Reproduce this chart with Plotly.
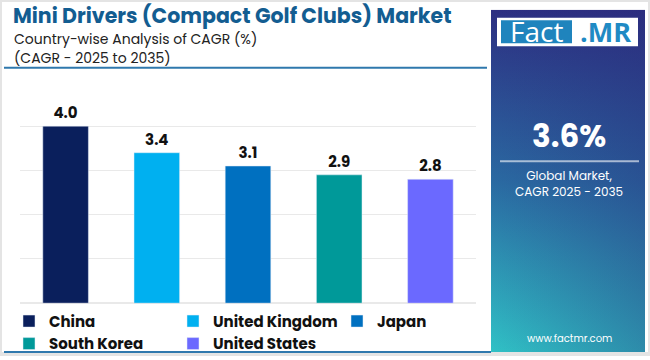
import plotly.graph_objects as go

# ---- data ----
countries = ["China", "United Kingdom", "Japan", "South Korea", "United States"]
cagr = [4.0, 3.4, 3.1, 2.9, 2.8]
bar_colors = ["#0a1f5c", "#00b0f0", "#0070c0", "#009999", "#6b69ff"]
title_text = "Mini Drivers (Compact Golf Clubs) Market"
subtitle_1 = "Country-wise Analysis of CAGR (%)"
subtitle_2 = "(CAGR - 2025 to 2035)"
global_value = "3.6%"
global_label = "Global Market,<br>CAGR 2025 - 2035"
site = "www.factmr.com"

W, H = 650, 360
FONT = "Poppins, Lato, sans-serif"


def px(x):
    return x / W


def py(y):
    return 1 - y / H


fig = go.Figure()

for c, v, col in zip(countries, cagr, bar_colors):
    fig.add_trace(go.Bar(
        x=[c], y=[v], name=c, marker_color=col, width=0.5,
        text=[f"{v:.1f}"], textposition="outside", cliponaxis=False,
        textfont=dict(size=15, color="#111111", family=FONT, weight="bold"),
        xaxis="x", yaxis="y",
    ))

# gradient side panel (vertical gradient + horizontal darkening overlay)
fig.add_trace(go.Scatter(
    x=[0, 1, 1, 0, 0], y=[0, 0, 1, 1, 0], mode="lines", fill="toself",
    line=dict(width=0), showlegend=False, hoverinfo="skip",
    fillgradient=dict(type="vertical",
                      colorscale=[[0, "#30c2c6"], [0.5, "#2a6aa2"], [1, "#2d2f82"]]),
    xaxis="x2", yaxis="y2",
))
fig.add_trace(go.Scatter(
    x=[0, 1, 1, 0, 0], y=[0, 0, 1, 1, 0], mode="lines", fill="toself",
    line=dict(width=0), showlegend=False, hoverinfo="skip",
    fillgradient=dict(type="horizontal",
                      colorscale=[[0, "rgba(40,40,120,0)"], [1, "rgba(40,40,120,0.35)"]]),
    xaxis="x2", yaxis="y2",
))

fig.update_layout(
    width=W, height=H,
    margin=dict(l=0, r=0, t=0, b=0),
    paper_bgcolor="white", plot_bgcolor="white",
    barmode="overlay",
    showlegend=True,
    xaxis=dict(domain=[px(20), px(476)], showticklabels=False, showgrid=False,
               zeroline=False, showline=False, fixedrange=True),
    yaxis=dict(domain=[py(308.3), py(82.4)], range=[0, 5.02], tickvals=[0, 1, 2, 3, 4, 5],
               showticklabels=False, showgrid=True, gridcolor="#e9e9e9",
               gridwidth=1, zeroline=True, zerolinecolor="#e9e9e9",
               showline=False, fixedrange=True),
    xaxis2=dict(domain=[px(491), px(645)], range=[0, 1], visible=False, fixedrange=True),
    yaxis2=dict(domain=[0, py(10)], range=[0, 1], visible=False, fixedrange=True,
                anchor="x2"),
    legend=dict(orientation="h", x=px(9), y=py(310), xanchor="left", yanchor="top",
                entrywidth=119, entrywidthmode="pixels", traceorder="normal",
                font=dict(size=15, color="#111111", family=FONT, weight="bold"),
                bgcolor="rgba(0,0,0,0)"),
    font=dict(family=FONT),
)

shapes = [
    dict(type="rect", xref="paper", yref="paper", x0=0, x1=1, y0=0, y1=1,
         line=dict(color="#e4e4e4", width=4), layer="above"),
    dict(type="line", xref="paper", yref="paper", x0=px(4), x1=px(487),
         y0=py(69), y1=py(69), line=dict(color="#2f78ad", width=2)),
    dict(type="line", xref="paper", yref="paper", x0=px(4), x1=px(491),
         y0=py(358), y1=py(358), line=dict(color="#2f78ad", width=2)),
    # logo
    dict(type="rect", xref="paper", yref="paper", x0=px(497), x1=px(638),
         y0=py(47), y1=py(18), fillcolor="white", line=dict(width=0)),
    dict(type="rect", xref="paper", yref="paper", x0=px(501), x1=px(572),
         y0=py(44), y1=py(20.5), fillcolor="#1f84bd", line=dict(width=0)),
    # divider in panel
    dict(type="line", xref="paper", yref="paper", x0=px(500), x1=px(639),
         y0=py(164), y1=py(164), line=dict(color="rgba(255,255,255,0.6)", width=2)),
]
fig.update_layout(shapes=shapes)

ann = [
    dict(text=f"<b>{title_text}</b>", x=px(11), y=py(16), xanchor="left", yanchor="middle",
         font=dict(size=20.5, color="#135d91", family=FONT)),
    dict(text=subtitle_1, x=px(12), y=py(39.5), xanchor="left", yanchor="middle",
         font=dict(size=14, color="#222222", family=FONT)),
    dict(text=subtitle_2, x=px(12), y=py(58.5), xanchor="left", yanchor="middle",
         font=dict(size=14, color="#222222", family=FONT)),
    dict(text="Fact", x=px(536.5), y=py(32), xanchor="center", yanchor="middle",
         font=dict(size=28, color="white", family="Open Sans, sans-serif")),
    dict(text="<b>.MR</b>", x=px(605), y=py(32), xanchor="center", yanchor="middle",
         font=dict(size=27, color="#1f8ac4", family="Open Sans, sans-serif")),
    dict(text=f"<b>{global_value}</b>", x=px(569), y=py(138), xanchor="center",
         yanchor="middle", font=dict(size=31, color="white", family=FONT)),
    dict(text=global_label, x=px(569), y=py(187), xanchor="center", yanchor="middle",
         font=dict(size=12, color="white", family=FONT)),
    dict(text=site, x=px(569), y=py(344), xanchor="center", yanchor="middle",
         font=dict(size=10, color="white", family=FONT)),
]
for a in ann:
    a.update(xref="paper", yref="paper", showarrow=False)
fig.update_layout(annotations=ann)

fig.write_html(
    "out.html",
    config={"displayModeBar": False},
    post_script="document.body.style.margin='0';document.body.style.overflow='hidden';",
)
